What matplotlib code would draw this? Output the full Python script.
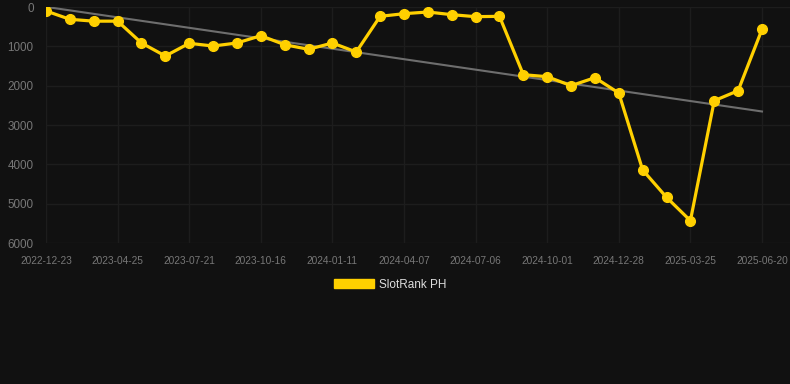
import numpy as np
import matplotlib
matplotlib.use("Agg")
import matplotlib.pyplot as plt
from matplotlib.patches import Patch

# ---- data ----
tick_labels = ['2022-12-23', '2023-04-25', '2023-07-21', '2023-10-16', '2024-01-11',
               '2024-04-07', '2024-07-06', '2024-10-01', '2024-12-28', '2025-03-25',
               '2025-06-20']
ranks = [100, 313, 360, 360, 915, 1246, 923, 992, 915, 730,
         958, 1076, 915, 1144, 237, 170, 127, 195, 246, 237,
         1721, 1772, 2000, 1797, 2187, 4144, 4839, 5433, 2382, 2128,
         568]
series_name = 'SlotRank PH'
y_ticks = [0, 1000, 2000, 3000, 4000, 5000, 6000]

BG = '#111111'
YELLOW = '#FFD000'
TREND = '#6e6e6e'
TICK = '#777777'
GRID = '#1d1d1d'

plt.rcParams['font.family'] = ['Liberation Sans', 'DejaVu Sans']

W, H = 790, 384
fig = plt.figure(figsize=(W / 100, H / 100), dpi=100, facecolor=BG)
ax = fig.add_axes([46 / W, 1 - 243 / H, (W - 46) / W, (243 - 7) / H])
ax.set_facecolor(BG)

x = np.arange(len(ranks))
coef = np.polyfit(x, ranks, 1)
trend = np.polyval(coef, x)

ax.plot(x, trend, color=TREND, lw=1.5, zorder=2)
ax.plot(x, ranks, color=YELLOW, lw=2.3, marker='o', markersize=7,
        markerfacecolor=YELLOW, markeredgecolor=YELLOW, zorder=3)

step = 3
ax.set_xticks(x[::step])
ax.set_xticklabels(tick_labels)
ax.set_xlim(0, (W - 46) / ((762 - 46) / 30))
ax.set_ylim(6000, 0)
ax.set_yticks(y_ticks)
ax.set_yticklabels([str(v) for v in y_ticks])

ax.tick_params(axis='x', length=0, pad=9, labelsize=7.3, colors=TICK)
ax.tick_params(axis='y', length=0, pad=9, labelsize=8.4, colors=TICK)
for s in ax.spines.values():
    s.set_visible(False)
ax.grid(True, color=GRID, lw=1.0)
ax.set_axisbelow(True)

handle = Patch(facecolor=YELLOW, edgecolor=YELLOW)
leg = fig.legend([handle], [series_name], loc='center', bbox_to_anchor=(390 / W, 1 - 284.5 / H),
                 frameon=False, fontsize=8.5, handlelength=3.4, handleheight=0.9,
                 handletextpad=0.45, labelcolor='#dddddd')

fig.savefig('out.png', dpi=100, facecolor=BG)
